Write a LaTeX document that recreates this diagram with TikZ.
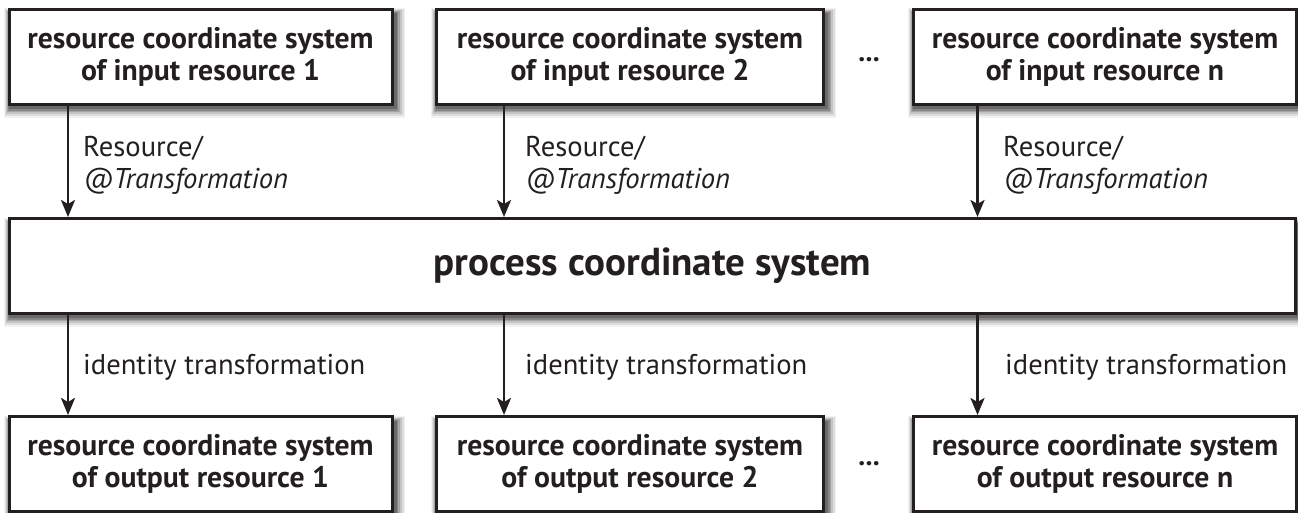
\documentclass[tikz,border=0pt]{standalone}
\usepackage{fontspec}
\setmainfont{PT Sans}
\usetikzlibrary{arrows.meta}
\definecolor{ink}{RGB}{35,31,32}
\definecolor{shA}{RGB}{242,242,242}
\definecolor{shB}{RGB}{222,222,222}
\definecolor{shC}{RGB}{196,196,196}
\definecolor{shD}{RGB}{165,165,165}
\definecolor{shE}{RGB}{135,135,135}
\definecolor{shF}{RGB}{105,105,105}
\begin{document}
\begin{tikzpicture}[x=1pt,y=1pt,
  box/.style={draw=ink, line width=3pt, fill=white, rectangle, inner sep=0pt,
    minimum height=95pt, align=center, text=ink,
    font=\fontsize{29.7}{32}\selectfont\bfseries},
  arr/.style={draw=ink, line width=2.6pt, -{Stealth[length=17pt,width=14pt,inset=4pt]}},
  lbl/.style={anchor=base west, inner sep=0pt, text=ink, font=\fontsize{28.6}{32}\selectfont},
  dotsn/.style={anchor=base, inner sep=0pt, text=ink, font=\fontsize{28}{32}\selectfont\bfseries}]
\useasboundingbox (0,0) rectangle (1298,-513);
% drop shadows, drawn as nested gray rectangles
\foreach \xa/\ya/\xb/\yb in {7.5/-7.5/393.5/-106.5, 435/-7.5/825/-106.5, 912/-7.5/1298/-106.5,
    7.5/-217/1297.5/-315, 7.5/-415/393.5/-513, 435/-415/825/-513, 912/-415/1298/-513}{
  \fill[shA] (\xa-4,\ya-1) rectangle (\xb+11,\yb-12);
  \fill[shB] (\xa-3,\ya-2) rectangle (\xb+10,\yb-10);
  \fill[shC] (\xa-2,\ya-3) rectangle (\xb+8,\yb-8);
  \fill[shD] (\xa-1,\ya-4) rectangle (\xb+6,\yb-6);
  \fill[shE] (\xa,\ya-5) rectangle (\xb+4.5,\yb-4.5);
  \fill[shF] (\xa+1,\ya-6) rectangle (\xb+3,\yb-3);
}
% columns for the connectors
\coordinate (c1) at (68,0);
\coordinate (c2) at (504,0);
\coordinate (c3) at (977.5,0);
% input boxes
\node[box, minimum width=383pt] (in1) at (200.5,-57) {resource coordinate system\\of input resource 1};
\node[box, minimum width=387pt] (in2) at (630,-57) {resource coordinate system\\of input resource 2};
\node[box, minimum width=383pt] (in3) at (1105,-57) {resource coordinate system\\of input resource n};
\node[dotsn] (dt) at (869,-62) {...};
% process box
\node[box, minimum width=1286pt, font=\fontsize{39}{42}\selectfont\bfseries] (proc) at (652.5,-266) {process coordinate system};
% output boxes
\node[box, minimum width=383pt] (out1) at (200.5,-464) {resource coordinate system\\of output resource 1};
\node[box, minimum width=387pt] (out2) at (630,-464) {resource coordinate system\\of output resource 2};
\node[box, minimum width=383pt] (out3) at (1105,-464) {resource coordinate system\\of output resource n};
\node[dotsn] (db) at (869,-465) {...};
% connectors input -> process
\draw[arr] (in1.south -| c1) -- (proc.north -| c1);
\draw[arr] (in2.south -| c2) -- (proc.north -| c2);
\draw[arr] (in3.south -| c3) -- (proc.north -| c3);
% connectors process -> output
\draw[arr] (proc.south -| c1) -- (out1.north -| c1);
\draw[arr] (proc.south -| c2) -- (out2.north -| c2);
\draw[arr] (proc.south -| c3) -- (out3.north -| c3);
% labels
\node[lbl] (l1a) at (83,-157) {Resource/};
\node[lbl] (l1b) at (83,-189) {\itshape @Transformation};
\node[lbl] (l2a) at (525,-157) {Resource/};
\node[lbl] (l2b) at (525,-189) {\itshape @Transformation};
\node[lbl] (l3a) at (1003,-157) {Resource/};
\node[lbl] (l3b) at (1003,-189) {\itshape @Transformation};
\node[lbl] (i1) at (83,-374) {identity transformation};
\node[lbl] (i2) at (525,-374) {identity transformation};
\node[lbl] (i3) at (1005,-374) {identity transformation};
\end{tikzpicture}
\end{document}
